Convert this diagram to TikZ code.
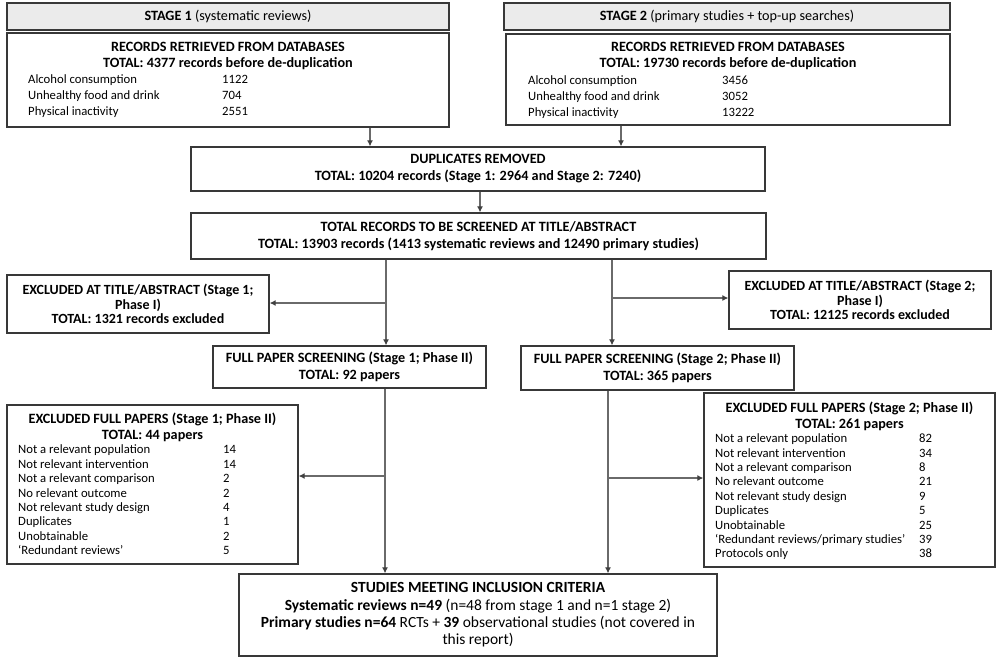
\documentclass[tikz,border=0pt]{standalone}
\usepackage{fontspec}
\setmainfont{Carlito}
\usepackage{xcolor}
\usetikzlibrary{arrows.meta}
\definecolor{boxline}{HTML}{383838}
\definecolor{hdrfill}{HTML}{EBEBEB}
\definecolor{flowline}{HTML}{6A6A6A}
\tikzstyle{box}=[draw=boxline, line width=1.3pt, fill=white, inner sep=0pt, align=center, font=\fontsize{14.2}{17}\selectfont]
\tikzstyle{hdr}=[box, fill=hdrfill]
\tikzstyle{txt}=[inner sep=0pt, align=center, font=\fontsize{14.2}{16}\selectfont]
\tikzstyle{lst}=[inner sep=0pt, anchor=west, font=\fontsize{12.7}{16}\selectfont]
\tikzstyle{flow}=[draw=flowline, line width=1.1pt]
\tikzstyle{arr}=[flow, -{Latex[length=6pt,width=6pt,color=black!75]}]

\begin{document}
\begin{tikzpicture}[x=1pt,y=-1pt]
	\useasboundingbox (0,0) rectangle (999,662);
	% stage headers
	\node(hdr1)[hdr, minimum width=442pt, minimum height=27pt] at (228,16.5) {\textbf{STAGE 1} (systematic reviews)};
	\node(hdr2)[hdr, minimum width=446pt, minimum height=27pt] at (727,16.5) {\textbf{STAGE 2} (primary studies + top-up searches)};
	% records retrieved
	\node(rec1)[box, minimum width=442pt, minimum height=94pt] at (228,80) {};
	\node(rec1t)[txt] at (228,56) {\textbf{RECORDS RETRIEVED FROM DATABASES}\\\textbf{TOTAL: 4377 records before de-duplication}};
	\node(rec1l)[lst] at (28,96) {\begin{tabular}{@{}p{194pt}@{}l@{}}Alcohol consumption & 1122\\Unhealthy food and drink & 704\\Physical inactivity & 2551\end{tabular}};
	\node(rec2)[box, minimum width=444pt, minimum height=91pt] at (728,79.5) {};
	\node(rec2t)[txt] at (728,56) {\textbf{RECORDS RETRIEVED FROM DATABASES}\\\textbf{TOTAL: 19730 records before de-duplication}};
	\node(rec2l)[lst] at (528,97) {\begin{tabular}{@{}p{194pt}@{}l@{}}Alcohol consumption & 3456\\Unhealthy food and drink & 3052\\Physical inactivity & 13222\end{tabular}};
	% merged
	\node(dup)[box, minimum width=574pt, minimum height=44pt] at (478,169) {\textbf{DUPLICATES REMOVED}\\\textbf{TOTAL: 10204 records (Stage 1: 2964 and Stage 2: 7240)}};
	\node(scr)[box, minimum width=575pt, minimum height=46pt] at (478.5,236) {\textbf{TOTAL RECORDS TO BE SCREENED AT TITLE/ABSTRACT}\\\textbf{TOTAL: 13903 records (1413 systematic reviews and 12490 primary studies)}};
	% phase I
	\node(exa1)[box, minimum width=262pt, minimum height=58pt, font=\fontsize{14}{14.5}\selectfont] at (138,304) {\textbf{EXCLUDED AT TITLE/ABSTRACT (Stage 1;}\\\textbf{Phase I)}\\\textbf{TOTAL: 1321 records excluded}};
	\node(exa2)[box, minimum width=262pt, minimum height=58pt, font=\fontsize{14}{14.5}\selectfont] at (860,300) {\textbf{EXCLUDED AT TITLE/ABSTRACT (Stage 2;}\\\textbf{Phase I)}\\\textbf{TOTAL: 12125 records excluded}};
	\node(fp1)[box, minimum width=273pt, minimum height=42pt] at (349.5,367) {\textbf{FULL PAPER SCREENING (Stage 1; Phase II)}\\\textbf{TOTAL: 92 papers}};
	\node(fp2)[box, minimum width=273pt, minimum height=44pt] at (657.5,368) {\textbf{FULL PAPER SCREENING (Stage 2; Phase II)}\\\textbf{TOTAL: 365 papers}};
	% phase II
	\node(exf1)[box, minimum width=291pt, minimum height=159pt] at (152.5,484.5) {};
	\node(exf1t)[txt] at (152.5,427) {\textbf{EXCLUDED FULL PAPERS (Stage 1; Phase II)}\\\textbf{TOTAL: 44 papers}};
	\node(exf1l)[lst, font=\fontsize{12.7}{14.4}\selectfont] at (18,501.5) {\begin{tabular}{@{}p{205pt}@{}l@{}}Not a relevant population & 14\\Not relevant intervention & 14\\Not a relevant comparison & 2\\No relevant outcome & 2\\Not relevant study design & 4\\Duplicates & 1\\Unobtainable & 2\\‘Redundant reviews’ & 5\end{tabular}};
	\node(exf2)[box, minimum width=291pt, minimum height=174pt] at (849.5,480) {};
	\node(exf2t)[txt] at (849.5,416.5) {\textbf{EXCLUDED FULL PAPERS (Stage 2; Phase II)}\\\textbf{TOTAL: 261 papers}};
	\node(exf2l)[lst, font=\fontsize{12.7}{14.4}\selectfont] at (715,497.5) {\begin{tabular}{@{}p{204pt}@{}l@{}}Not a relevant population & 82\\Not relevant intervention & 34\\Not a relevant comparison & 8\\No relevant outcome & 21\\Not relevant study design & 9\\Duplicates & 5\\Unobtainable & 25\\‘Redundant reviews/primary studies’ & 39\\Protocols only & 38\end{tabular}};
	% included
	\node(fin)[box, minimum width=478pt, minimum height=82pt, font=\fontsize{15.5}{17.3}\selectfont] at (478,615) {\textbf{STUDIES MEETING INCLUSION CRITERIA}\\\textbf{Systematic reviews n=49} (n=48 from stage 1 and n=1 stage 2)\\\textbf{Primary studies n=64} RCTs + \textbf{39} observational studies (not covered in\\this report)};

	% connectors
	\coordinate(t1) at (370,0);
	\coordinate(t2) at (621,0);
	\coordinate(t3) at (480,0);
	\coordinate(b1) at (386,303);
	\coordinate(b2) at (612,298);
	\coordinate(b3) at (385,476);
	\coordinate(b4) at (608,478);
	\draw[arr] (t1 |- rec1.south) -- (t1 |- dup.north);
	\draw[arr] (t2 |- rec2.south) -- (t2 |- dup.north);
	\draw[arr] (t3 |- dup.south) -- (t3 |- scr.north);
	\draw[flow] (b1 |- scr.south) -- (b1);
	\draw[arr] (b1) -- (b1 |- fp1.north);
	\draw[arr] (b1) -- (exa1.east |- b1);
	\draw[flow] (b2 |- scr.south) -- (b2);
	\draw[arr] (b2) -- (b2 |- fp2.north);
	\draw[arr] (b2) -- (exa2.west |- b2);
	\draw[flow] (b3 |- fp1.south) -- (b3);
	\draw[arr] (b3) -- (b3 |- fin.north);
	\draw[arr] (b3) -- (exf1.east |- b3);
	\draw[flow] (b4 |- fp2.south) -- (b4);
	\draw[arr] (b4) -- (b4 |- fin.north);
	\draw[arr] (b4) -- (exf2.west |- b4);
\end{tikzpicture}
\end{document}
